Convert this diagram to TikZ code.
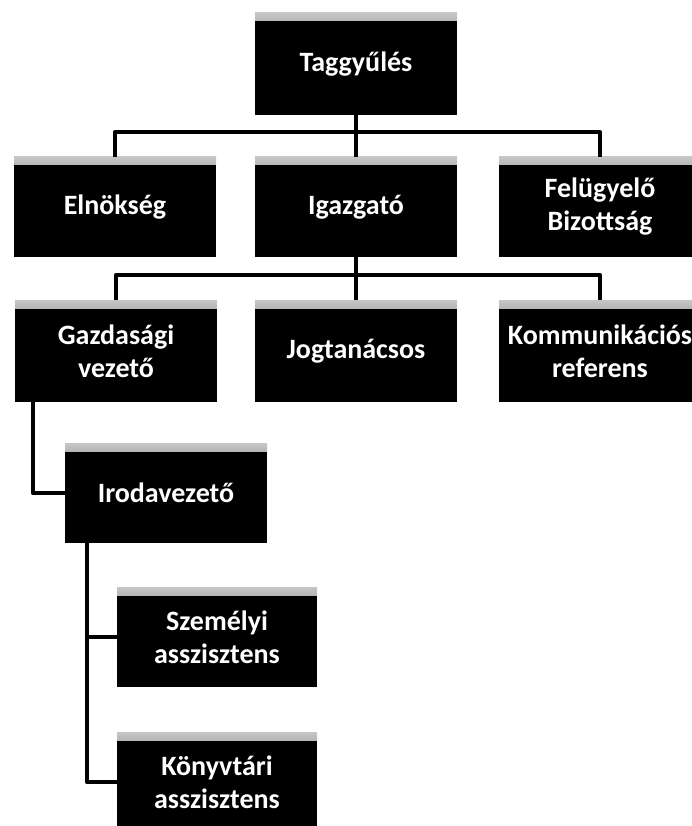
\documentclass[tikz,border=0pt]{standalone}
\usepackage{fontspec}
\setmainfont{Carlito}
\begin{document}
\begin{tikzpicture}[x=1pt,y=-1pt,
  orgbox/.style={fill=black, text=white, font=\bfseries\fontsize{28}{33}\selectfont,
    minimum width=202pt, minimum height=100pt, inner sep=2pt, align=center,
    path picture={\shade[top color=gray!45, bottom color=black]
      (path picture bounding box.north west) rectangle ([yshift=-8pt]path picture bounding box.north east);}},
  conn/.style={line width=4pt, black, line join=round}]
\useasboundingbox (0,0) rectangle (692,826);
\clip (0,0) rectangle (692,826);
\fill[white] (0,0) rectangle (692,826);

\node[orgbox, minimum height=102pt] (tag) at (356,64) {Taggyűlés};
\node[orgbox] (elnok) at (115,207) {Elnökség};
\node[orgbox] (igaz) at (356,207) {Igazgató};
\node[orgbox] (felu) at (600,207) {Felügyelő\\Bizottság};
\node[orgbox, minimum height=102pt] (gazd) at (116,351) {Gazdasági\\vezető};
\node[orgbox, minimum height=102pt] (jog) at (356,351) {Jogtanácsos};
\node[orgbox, minimum height=102pt] (komm) at (600,351) {Kommunikációs\\referens};
\node[orgbox] (iroda) at (166,493) {Irodavezető};
\node[orgbox, minimum width=200pt] (szem) at (217,637) {Személyi\\asszisztens};
\node[orgbox, minimum width=200pt] (konyv) at (217,782) {Könyvtári\\asszisztens};

\coordinate (bus1) at (356,132);
\coordinate (bus2) at (356,275);
\draw[conn] (elnok.north) |- (bus1) -| (felu.north);
\draw[conn] (tag.south) -- (igaz.north);
\draw[conn] (gazd.north) |- (bus2) -| (komm.north);
\draw[conn] (igaz.south) -- (jog.north);
\draw[conn] ([xshift=18pt]gazd.south west) |- (iroda.west);
\draw[conn] ([xshift=22pt]iroda.south west) |- (szem.west);
\draw[conn] ([xshift=22pt]iroda.south west) |- (konyv.west);
\end{tikzpicture}
\end{document}
